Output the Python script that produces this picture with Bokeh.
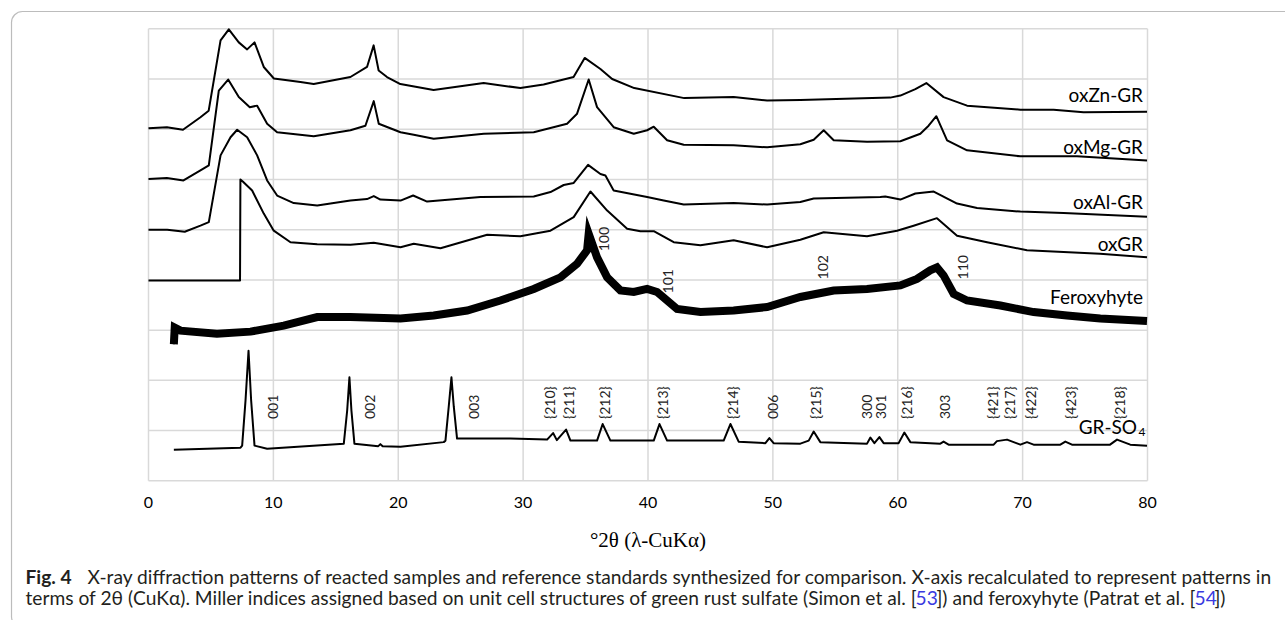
import math
from bokeh.plotting import figure
from bokeh.models import Range1d, FixedTicker, Label, BoxAnnotation
from bokeh.embed import file_html
from bokeh.resources import INLINE
from bokeh.core.properties import value

# ---------------- data ----------------
zn_x = [0, 1.47, 2.76, 4.16, 4.82, 5.77, 6.43, 7.23, 7.90, 8.49, 9.23, 10.04, 12.17, 13.23, 16.17,
        17.50, 18.03, 18.43, 19.10, 20.17, 22.83, 26.84, 29.78, 31.64, 34.04, 34.93, 36.19, 37.13,
        38.90, 42.90, 46.86, 49.54, 52.20, 59.40, 60.21, 61.41, 62.29, 63.67, 65.55, 69.82, 72.48,
        74.88, 79.96]
zn_y = [7.02, 7.04, 6.99, 7.24, 7.37, 8.77, 8.99, 8.73, 8.59, 8.73, 8.24, 8.01, 7.94, 7.90, 8.04,
        8.24, 8.67, 8.17, 8.04, 7.90, 7.78, 7.92, 7.82, 7.89, 8.04, 8.42, 8.20, 8.00,
        7.82, 7.62, 7.64, 7.57, 7.58, 7.63, 7.67, 7.80, 7.92, 7.64, 7.47, 7.39, 7.39,
        7.34, 7.35]

mg_x = [0, 1.47, 2.80, 4.16, 4.83, 5.63, 6.38, 7.23, 8.11, 8.70, 9.50, 10.30, 13.23, 16.17, 17.37,
        18.04, 18.44, 20.18, 21.24, 22.84, 26.85, 30.85, 33.52, 34.32, 35.25, 35.92, 37.25, 38.86,
        39.93, 40.46, 41.53, 42.86, 46.86, 49.54, 52.20, 53.27, 54.07, 54.87, 57.54, 60.21, 61.81,
        62.47, 63.09, 63.95, 65.55, 69.82, 74.35, 79.96]
mg_y = [6.01, 6.03, 5.98, 6.18, 6.28, 7.77, 7.99, 7.64, 7.44, 7.47, 7.11, 6.94, 6.86, 6.98, 7.07,
        7.56, 7.11, 6.94, 6.89, 6.81, 6.91, 6.94, 7.11, 7.31, 7.99, 7.44, 7.04, 6.91,
        6.98, 7.05, 6.78, 6.69, 6.68, 6.64, 6.70, 6.79, 6.98, 6.78, 6.75, 6.76, 6.91,
        7.07, 7.26, 6.78, 6.58, 6.46, 6.46, 6.38]

al_x = [0, 1.50, 2.90, 4.16, 4.83, 5.77, 6.57, 7.10, 7.90, 8.70, 9.50, 10.30, 11.63, 13.51, 16.17,
        17.50, 18.04, 18.57, 20.18, 21.19, 22.31, 26.58, 30.85, 32.19, 33.25, 34.05, 35.20, 36.19,
        36.59, 37.25, 39.93, 41.26, 42.86, 46.86, 49.54, 52.20, 53.27, 58.60, 59.00, 60.21, 61.41,
        62.88, 64.75, 66.35, 69.82, 73.28, 79.96]
al_y = [5.00, 5.00, 4.96, 5.08, 5.15, 6.48, 6.84, 6.99, 6.84, 6.48, 5.98, 5.68, 5.53, 5.48, 5.58,
        5.61, 5.67, 5.60, 5.58, 5.68, 5.56, 5.65, 5.66, 5.75, 5.89, 5.93, 6.29, 6.11,
        6.08, 5.78, 5.65, 5.58, 5.50, 5.53, 5.50, 5.55, 5.62, 5.65, 5.66, 5.60, 5.72,
        5.76, 5.52, 5.43, 5.36, 5.33, 5.26]

gr_x = [0, 7.33, 7.36, 7.55, 8.30, 9.23, 10.03, 11.37, 13.51, 16.17, 18.04, 20.18, 21.24, 23.38,
        27.12, 29.78, 32.19, 34.05, 35.39, 36.73, 38.33, 39.39, 40.46, 42.06, 44.20, 46.86, 49.54,
        52.20, 54.07, 57.54, 59.94, 61.27, 63.14, 64.75, 67.15, 70.35, 76.20, 79.96]
gr_y = [3.99, 3.99, 6.00, 5.96, 5.78, 5.32, 4.98, 4.75, 4.71, 4.70, 4.74, 4.65, 4.72, 4.63,
        4.90, 4.87, 4.98, 5.25, 5.76, 5.38, 5.02, 4.97, 4.97, 4.75, 4.69, 4.79, 4.65,
        4.80, 4.95, 4.87, 4.98, 5.08, 5.23, 4.88, 4.75, 4.59, 4.52, 4.45]

fx_x = [2.03, 2.10, 2.56, 5.48, 8.17, 10.83, 13.51, 16.17, 20.18, 22.84, 25.52, 28.18, 30.85, 32.99,
        34.32, 35.12, 35.25, 35.92, 36.73, 37.79, 38.86, 39.93, 40.73, 41.53, 42.33, 44.20, 46.86,
        49.54, 52.20, 54.87, 57.54, 60.21, 61.54, 62.60, 63.14, 63.67, 64.48, 65.55, 68.22, 70.88,
        73.55, 76.22, 79.96]
fx_y = [2.72, 3.05, 2.99, 2.93, 2.97, 3.09, 3.26, 3.26, 3.23, 3.29, 3.39, 3.59, 3.82, 4.05,
        4.32, 4.59, 4.92, 4.45, 4.05, 3.79, 3.76, 3.82, 3.76, 3.59, 3.42, 3.36, 3.39,
        3.46, 3.66, 3.79, 3.82, 3.89, 4.02, 4.19, 4.25, 4.09, 3.72, 3.59, 3.49, 3.36,
        3.29, 3.23, 3.18]

so4_x = [2.03, 7.37, 7.50, 7.77, 8.01, 8.22, 8.49, 9.50, 15.64, 15.91, 16.09, 16.25, 16.49, 18.40,
         18.57, 18.75, 20.18, 23.64, 23.78, 24.04, 24.26, 24.45, 24.71, 28.98, 31.92, 32.40, 32.70,
         33.44, 33.79, 35.92, 36.37, 36.99, 40.46, 40.92, 41.53, 46.06, 46.60, 47.26, 49.40, 49.72,
         50.06, 52.20, 52.87, 53.27, 53.80, 57.54, 57.81, 58.13, 58.53, 58.87, 60.07, 60.53, 61.01,
         63.41, 63.67, 64.07, 67.68, 67.94, 68.75, 69.82, 70.35, 70.88, 73.02, 73.42, 73.95, 77.00,
         77.56, 78.62, 79.96]
so4_y = [0.62, 0.66, 0.70, 1.60, 2.59, 1.60, 0.70, 0.64, 0.74, 1.40, 2.06, 1.40, 0.74, 0.69,
         0.73, 0.69, 0.68, 0.77, 0.80, 1.47, 2.06, 1.47, 0.84, 0.84, 0.82, 0.95, 0.81,
         1.02, 0.80, 0.80, 1.13, 0.80, 0.80, 1.13, 0.80, 0.80, 1.13, 0.78, 0.75, 0.85,
         0.75, 0.74, 0.80, 0.98, 0.77, 0.74, 0.86, 0.75, 0.87, 0.75, 0.75, 0.96, 0.77,
         0.74, 0.78, 0.72, 0.72, 0.79, 0.82, 0.72, 0.77, 0.72, 0.72, 0.78, 0.72, 0.72,
         0.82, 0.72, 0.70]

series_names = ["oxZn-GR", "oxMg-GR", "oxAl-GR", "oxGR", "Feroxyhyte"]
series_label_y = [7.553, 6.517, 5.436, 4.600, 3.536]

gr_hkl = ["001", "002", "003", "{210}", "{211}", "{212}", "{213}", "{214}", "006", "{215}",
          "300", "301", "{216}", "303", "{421}", "{217}", "{422}", "{423}", "{218}"]
gr_hkl_x = [9.93, 17.77, 26.10, 32.13, 33.60, 36.50, 41.13, 46.73, 49.98, 53.40,
            57.54, 58.69, 60.69, 63.81, 67.55, 68.93, 70.62, 73.82, 77.77]
fx_hkl = ["100", "101", "102", "110"]
fx_hkl_x = [36.50, 41.60, 54.04, 65.25]
fx_hkl_y = [4.63, 3.79, 4.07, 4.07]

x_ticks = [0, 10, 20, 30, 40, 50, 60, 70, 80]
y_grid = [0, 1, 2, 3, 4, 5, 6, 7, 8, 9]

# ---------------- figure ----------------
# the frame covers the whole page; the x axis sits at y=0 via fixed_location
PX_X = 12.4875   # pixels per x unit
PX_Y = 50.222    # pixels per y unit
X0, Y0 = 148.0, 480.3   # page pixel of the data origin
W, H = 1285, 620

def dx(px):
    return (px - X0) / PX_X

def dy(py):
    return (Y0 - py) / PX_Y

def base(py, size):
    # alphabetic baselines come out ~0.35em low in the svg output
    return dy(py - 0.35 * size)

LATO = value("Lato")
p = figure(width=W, height=H, output_backend="svg", toolbar_location=None,
           x_range=Range1d(dx(0), dx(W)), y_range=Range1d(dy(H), dy(0)),
           min_border=0, min_border_left=0, min_border_right=0,
           min_border_top=0, min_border_bottom=0)
p.background_fill_color = "white"
p.border_fill_color = "white"
p.outline_line_color = None
p.xgrid.visible = False
p.ygrid.visible = False
p.yaxis.visible = False

ax = p.xaxis[0]
ax.fixed_location = 0
ax.bounds = (0, 80)
ax.ticker = FixedTicker(ticks=x_ticks)
ax.axis_line_color = None
ax.major_tick_line_color = None
ax.minor_tick_line_color = None
ax.major_tick_out = 0
ax.major_tick_in = 0
ax.major_label_text_font = "Lato"
ax.major_label_text_font_size = "16px"
ax.major_label_text_color = "black"
ax.major_label_standoff = 16
ax.axis_label = "°2θ (λ-CuKα)"
ax.axis_label_text_font = "Liberation Serif"
ax.axis_label_text_font_style = "normal"
ax.axis_label_text_font_size = "21px"
ax.axis_label_text_color = "black"
ax.axis_label_standoff = 17

# grid of the plot area, from the tick lists
p.segment(x0=x_ticks, y0=[y_grid[0]] * len(x_ticks), x1=x_ticks, y1=[y_grid[-1]] * len(x_ticks),
          line_color="#d9d9d9", line_width=1.5)
p.segment(x0=[x_ticks[0]] * len(y_grid), y0=y_grid, x1=[x_ticks[-1]] * len(y_grid), y1=y_grid,
          line_color="#d9d9d9", line_width=1.5)

# traces
for xs, ys in [(zn_x, zn_y), (mg_x, mg_y), (al_x, al_y), (gr_x, gr_y), (so4_x, so4_y)]:
    p.line(xs, ys, line_color="black", line_width=2, line_join="round")
p.line(fx_x, fx_y, line_color="black", line_width=8, line_join="miter")
p.line(fx_x, fx_y, line_color="black", line_width=2)

# series labels
LS = 19
p.text(x=[dx(1142.5)] * len(series_names), y=[v + 0.35 * LS / PX_Y for v in series_label_y],
       text=series_names, text_font=LATO, text_font_size=f"{LS}px", text_align="right",
       text_baseline="alphabetic", text_color="black")
p.text(x=[dx(1136.5)], y=[base(433, LS)], text=["GR-SO"], text_font=LATO,
       text_font_size=f"{LS}px", text_align="right", text_baseline="alphabetic",
       text_color="black")
p.text(x=[dx(1138)], y=[base(435.5, 12)], text=["4"], text_font=LATO, text_font_size="12px",
       text_align="left", text_baseline="alphabetic", text_color="black")

# Miller indices
p.text(x=gr_hkl_x, y=[dy(418.5)] * len(gr_hkl), text=gr_hkl, angle=math.pi / 2,
       text_font=LATO, text_font_size="14px", text_align="left",
       text_baseline="middle", text_color="#222222")
p.text(x=fx_hkl_x, y=[v - 3 / PX_Y for v in fx_hkl_y], text=fx_hkl, angle=math.pi / 2,
       text_font=LATO, text_font_size="14px", text_align="left",
       text_baseline="middle", text_color="#222222")

# rounded box round the figure panel
p.add_layout(BoxAnnotation(left=dx(11), right=dx(1320), top=dy(11), bottom=dy(627),
                           fill_alpha=0, line_color="#222222", line_width=1.2,
                           border_radius=11))

# caption
CS = 19.2
def cap(px, py, text, color="#231f20", style="normal"):
    p.add_layout(Label(x=dx(px), y=base(py, CS), text=text, text_font="Lato",
                       text_font_size=f"{CS}px", text_color=color, text_font_style=style,
                       text_baseline="alphabetic", text_align="left"))

cap(25, 583, "Fig. 4", style="bold")
cap(87, 583, "X-ray diffraction patterns of reacted samples and reference standards synthesized for comparison. X-axis recalculated to represent patterns in")
cap(25, 604, "terms of 2θ (CuKα). Miller indices assigned based on unit cell structures of green rust sulfate (Simon et al. [")
cap(915, 604, "53", color="#3a3adf")
cap(936, 604, "]) and feroxyhyte (Patrat et al. [")
cap(1194, 604, "54", color="#3a3adf")
cap(1214, 604, "])")

open("out.html", "w").write(file_html(p, INLINE))
